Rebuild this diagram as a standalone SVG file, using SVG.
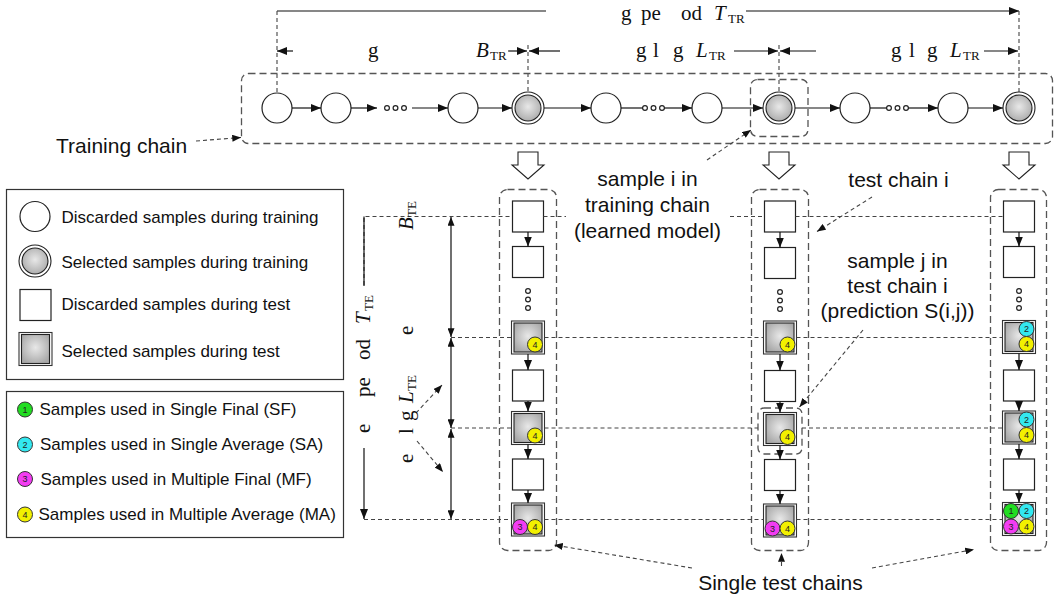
<svg xmlns="http://www.w3.org/2000/svg" width="1055" height="603" viewBox="0 0 1055 603">
<defs>
<style>
.sans{font-family:"Liberation Sans",Arial,sans-serif;fill:#111}
.m{font-family:"Liberation Serif","Times New Roman",serif;font-size:21px;fill:#111}
.it{font-style:italic}
.sub{font-size:13px}
.ln{stroke:#111;stroke-width:1.2;fill:none}
.dl{stroke:#444;stroke-width:1.1;fill:none;stroke-dasharray:4 3}
.box{stroke:#555;stroke-width:1.3;fill:none;stroke-dasharray:7 4}
.nd{fill:#fff;stroke:#222;stroke-width:1.2}
.sel{fill:url(#gs);stroke:#222;stroke-width:1.1}
.bt{font-family:"Liberation Sans",Arial,sans-serif;font-size:9px;fill:#222;text-anchor:middle}
.bd{stroke:#333;stroke-width:1}
</style>
<radialGradient id="gs" cx="0.5" cy="0.45" r="0.6">
<stop offset="0" stop-color="#e8e8e8"/><stop offset="1" stop-color="#a8a8a8"/>
</radialGradient>
<marker id="ah" viewBox="0 0 10 8" refX="10" refY="4" markerWidth="10" markerHeight="8" markerUnits="userSpaceOnUse" orient="auto"><path d="M0,0 L10,4 L0,8 z" fill="#111"/></marker>
<marker id="as" viewBox="0 0 10 8" refX="10" refY="4" markerWidth="9" markerHeight="7" markerUnits="userSpaceOnUse" orient="auto-start-reverse"><path d="M0,0 L10,4 L0,8 z" fill="#111"/></marker>
<g id="selc"><circle r="16" fill="#fff" stroke="#222" stroke-width="1.1"/><circle r="13" class="sel"/></g>
<g id="sq"><rect x="-15.5" y="-15.5" width="31" height="31" class="nd"/></g>
<g id="ssq"><rect x="-16.5" y="-16.5" width="33" height="33" fill="#fff" stroke="#333" stroke-width="1.1"/><rect x="-14" y="-14.5" width="28" height="29" class="sel"/></g>
<g id="darr"><polygon points="-10,0 10,0 10,13 16,13 0,27 -16,13 -10,13" fill="#fff" stroke="#222" stroke-width="1.1"/></g>
<g id="dots3v"><circle cx="0" cy="0" r="2.4" class="nd"/><circle cx="0" cy="8.5" r="2.4" class="nd"/><circle cx="0" cy="17" r="2.4" class="nd"/></g>
</defs>
<rect width="1055" height="603" fill="#fff"/>

<!-- dimension annotations (top) -->
<g id="top-dims">
<line x1="277" y1="11" x2="546" y2="11" class="ln"/>
<line x1="746" y1="11" x2="1019" y2="11" class="ln" marker-end="url(#ah)"/>
<text class="m" y="19.5" font-size="20"><tspan x="621">g</tspan><tspan x="641">pe</tspan><tspan x="681">od</tspan><tspan x="714" class="it">T</tspan><tspan x="728" dy="3" class="sub">TR</tspan></text>
<line x1="293" y1="51" x2="277" y2="51" class="ln" marker-end="url(#ah)"/>
<line x1="508" y1="51" x2="527" y2="51" class="ln" marker-end="url(#ah)"/>
<line x1="560" y1="51" x2="529" y2="51" class="ln" marker-end="url(#ah)"/>
<line x1="734" y1="51" x2="778" y2="51" class="ln" marker-end="url(#ah)"/>
<line x1="816" y1="51" x2="780" y2="51" class="ln" marker-end="url(#ah)"/>
<line x1="984" y1="51" x2="1018" y2="51" class="ln" marker-end="url(#ah)"/>
<text class="m" y="57"><tspan x="368">g</tspan><tspan x="476" class="it">B</tspan><tspan x="490" dy="3" class="sub">TR</tspan></text>
<text class="m" y="57"><tspan x="636">g</tspan><tspan x="653">l</tspan><tspan x="673">g</tspan><tspan x="696" class="it">L</tspan><tspan x="709" dy="3" class="sub">TR</tspan></text>
<text class="m" y="57"><tspan x="891">g</tspan><tspan x="909">l</tspan><tspan x="927">g</tspan><tspan x="950" class="it">L</tspan><tspan x="963" dy="3" class="sub">TR</tspan></text>
<line x1="277" y1="11" x2="277" y2="93" class="dl"/>
<line x1="528" y1="45" x2="528" y2="92" class="dl"/>
<line x1="779" y1="45" x2="779" y2="92" class="dl"/>
<line x1="1019" y1="11" x2="1019" y2="92" class="dl"/>
</g>

<!-- training chain -->
<g id="training-chain">
<rect x="241.5" y="73.5" width="811" height="70" rx="7" class="box"/>
<rect x="750.5" y="79.5" width="57.5" height="57" rx="7" class="box"/>
<circle cx="277" cy="108" r="15" class="nd"/>
<circle cx="336" cy="108" r="15" class="nd"/>
<circle cx="463" cy="108" r="15" class="nd"/>
<use href="#selc" x="528" y="108"/>
<circle cx="606" cy="108" r="15" class="nd"/>
<circle cx="707" cy="108" r="15" class="nd"/>
<use href="#selc" x="779" y="108"/>
<circle cx="855" cy="108" r="15" class="nd"/>
<circle cx="953" cy="108" r="15" class="nd"/>
<use href="#selc" x="1019" y="108"/>
<circle cx="387" cy="108" r="2.4" class="nd"/><circle cx="395.5" cy="108" r="2.4" class="nd"/><circle cx="404" cy="108" r="2.4" class="nd"/>
<circle cx="645" cy="108" r="2.4" class="nd"/><circle cx="653.5" cy="108" r="2.4" class="nd"/><circle cx="662" cy="108" r="2.4" class="nd"/>
<circle cx="889" cy="108" r="2.4" class="nd"/><circle cx="897.5" cy="108" r="2.4" class="nd"/><circle cx="906" cy="108" r="2.4" class="nd"/>
</g>

<!-- down arrows -->
<g id="down-arrows">
<use href="#darr" x="528" y="152"/>
<use href="#darr" x="779" y="152"/>
<use href="#darr" x="1019" y="152"/>
</g>

<!-- test chains -->
<g id="test-chain-1">
<rect x="499.5" y="189.5" width="57" height="361" rx="8" class="box"/>
<use href="#sq" x="528" y="216.5"/>
<use href="#sq" x="528" y="262"/>
<use href="#dots3v" x="528" y="291"/>
<use href="#ssq" x="528" y="337.5"/>
<use href="#sq" x="528" y="385.5"/>
<use href="#ssq" x="528" y="428"/>
<use href="#sq" x="528" y="474.5"/>
<use href="#ssq" x="528" y="519.5"/>
<circle cx="535" cy="344.5" r="7.5" fill="#f2f000" class="bd"/><text x="535" y="347.7" class="bt">4</text>
<circle cx="535" cy="435.5" r="7.5" fill="#f2f000" class="bd"/><text x="535" y="438.7" class="bt">4</text>
<circle cx="520" cy="527" r="7.5" fill="#f23cf2" class="bd"/><text x="520" y="530.2" class="bt">3</text>
<circle cx="535" cy="527" r="7.5" fill="#f2f000" class="bd"/><text x="535" y="530.2" class="bt">4</text>
</g>
<g id="test-chain-2">
<rect x="751.5" y="189.5" width="57" height="361" rx="8" class="box"/>
<rect x="758" y="408" width="44" height="46" rx="6" class="box"/>
<use href="#sq" x="780" y="216.5"/>
<use href="#sq" x="780" y="263"/>
<use href="#dots3v" x="780" y="292"/>
<use href="#ssq" x="780" y="337.5"/>
<use href="#sq" x="780" y="386"/>
<use href="#ssq" x="780" y="429"/>
<use href="#sq" x="780" y="475"/>
<use href="#ssq" x="780" y="520.5"/>
<circle cx="787.5" cy="344.5" r="7.5" fill="#f2f000" class="bd"/><text x="787.5" y="347.7" class="bt">4</text>
<circle cx="787.5" cy="437" r="7.5" fill="#f2f000" class="bd"/><text x="787.5" y="440.2" class="bt">4</text>
<circle cx="772.5" cy="528.5" r="7.5" fill="#f23cf2" class="bd"/><text x="772.5" y="531.7" class="bt">3</text>
<circle cx="787.5" cy="528.5" r="7.5" fill="#f2f000" class="bd"/><text x="787.5" y="531.7" class="bt">4</text>
</g>
<g id="test-chain-3">
<rect x="990.5" y="189.5" width="56" height="361" rx="8" class="box"/>
<use href="#sq" x="1019" y="216.5"/>
<use href="#sq" x="1019" y="262"/>
<use href="#dots3v" x="1019" y="291"/>
<use href="#ssq" x="1019" y="337"/>
<use href="#sq" x="1019" y="385.5"/>
<use href="#ssq" x="1019" y="427.5"/>
<use href="#sq" x="1019" y="474.5"/>
<use href="#ssq" x="1019" y="519"/>
<circle cx="1026.5" cy="329" r="7.5" fill="#33e8f0" class="bd"/><text x="1026.5" y="332.2" class="bt">2</text>
<circle cx="1026.5" cy="344" r="7.5" fill="#f2f000" class="bd"/><text x="1026.5" y="347.2" class="bt">4</text>
<circle cx="1026.5" cy="419.5" r="7.5" fill="#33e8f0" class="bd"/><text x="1026.5" y="422.7" class="bt">2</text>
<circle cx="1026.5" cy="435" r="7.5" fill="#f2f000" class="bd"/><text x="1026.5" y="438.2" class="bt">4</text>
<circle cx="1011" cy="511" r="7.5" fill="#22dd22" class="bd"/><text x="1011" y="514.2" class="bt">1</text>
<circle cx="1026.5" cy="511" r="7.5" fill="#33e8f0" class="bd"/><text x="1026.5" y="514.2" class="bt">2</text>
<circle cx="1011" cy="526.5" r="7.5" fill="#f23cf2" class="bd"/><text x="1011" y="529.7" class="bt">3</text>
<circle cx="1026.5" cy="526.5" r="7.5" fill="#f2f000" class="bd"/><text x="1026.5" y="529.7" class="bt">4</text>
</g>

<!-- connectors -->
<g id="connectors">
<line x1="292" y1="108" x2="321" y2="108" class="ln" marker-end="url(#ah)"/>
<line x1="351" y1="108" x2="377" y2="108" class="ln" marker-end="url(#ah)"/>
<line x1="412" y1="108" x2="448" y2="108" class="ln" marker-end="url(#ah)"/>
<line x1="478" y1="108" x2="512" y2="108" class="ln" marker-end="url(#ah)"/>
<line x1="544" y1="108" x2="591" y2="108" class="ln" marker-end="url(#ah)"/>
<line x1="621" y1="108" x2="642.6" y2="108" class="ln"/>
<line x1="664.4" y1="108" x2="692" y2="108" class="ln" marker-end="url(#ah)"/>
<line x1="722" y1="108" x2="763" y2="108" class="ln" marker-end="url(#ah)"/>
<line x1="795" y1="108" x2="840" y2="108" class="ln" marker-end="url(#ah)"/>
<line x1="870" y1="108" x2="886.6" y2="108" class="ln"/>
<line x1="908.4" y1="108" x2="938" y2="108" class="ln" marker-end="url(#ah)"/>
<line x1="968" y1="108" x2="1003" y2="108" class="ln" marker-end="url(#ah)"/>
<!-- test chain vertical -->
<line x1="528" y1="232" x2="528" y2="246.5" class="ln" marker-end="url(#ah)"/>
<line x1="528" y1="354" x2="528" y2="370" class="ln" marker-end="url(#ah)"/>
<line x1="528" y1="401" x2="528" y2="411.5" class="ln" marker-end="url(#ah)"/>
<line x1="528" y1="444.5" x2="528" y2="459" class="ln" marker-end="url(#ah)"/>
<line x1="528" y1="490" x2="528" y2="503" class="ln" marker-end="url(#ah)"/>
<line x1="780" y1="232" x2="780" y2="247.5" class="ln" marker-end="url(#ah)"/>
<line x1="780" y1="354" x2="780" y2="370.5" class="ln" marker-end="url(#ah)"/>
<line x1="780" y1="401.5" x2="780" y2="412.5" class="ln" marker-end="url(#ah)"/>
<line x1="780" y1="445.5" x2="780" y2="459.5" class="ln" marker-end="url(#ah)"/>
<line x1="780" y1="490.5" x2="780" y2="504" class="ln" marker-end="url(#ah)"/>
<line x1="1019" y1="232" x2="1019" y2="246.5" class="ln" marker-end="url(#ah)"/>
<line x1="1019" y1="353.5" x2="1019" y2="370" class="ln" marker-end="url(#ah)"/>
<line x1="1019" y1="401" x2="1019" y2="411" class="ln" marker-end="url(#ah)"/>
<line x1="1019" y1="444" x2="1019" y2="459" class="ln" marker-end="url(#ah)"/>
<line x1="1019" y1="490" x2="1019" y2="502.5" class="ln" marker-end="url(#ah)"/>
<!-- horizontal dashed guides -->
<polyline points="364,285 364,216.5 512.5,216.5" class="dl"/>
<line x1="543.5" y1="216.5" x2="566" y2="216.5" class="dl"/>
<line x1="730" y1="216.5" x2="764.5" y2="216.5" class="dl"/>
<line x1="795.5" y1="216.5" x2="1003.5" y2="216.5" class="dl"/>
<line x1="451" y1="337.5" x2="511.5" y2="337.5" class="dl"/>
<line x1="544.5" y1="337.5" x2="763.5" y2="337.5" class="dl"/>
<line x1="796.5" y1="337.5" x2="1002.5" y2="337.5" class="dl"/>
<line x1="451" y1="428" x2="511.5" y2="428" class="dl"/>
<line x1="544.5" y1="428" x2="758" y2="428" class="dl"/>
<line x1="802" y1="428" x2="1002.5" y2="428" class="dl"/>
<line x1="364" y1="519.5" x2="511.5" y2="519.5" class="dl"/>
<line x1="544.5" y1="519.5" x2="763.5" y2="519.5" class="dl"/>
<line x1="796.5" y1="519.5" x2="1002.5" y2="519.5" class="dl"/>
<!-- left dimension -->
<line x1="364" y1="216.5" x2="364" y2="286" class="ln"/>
<line x1="364" y1="448" x2="364" y2="519" class="ln" marker-end="url(#ah)"/>
<line x1="451" y1="217" x2="451" y2="337" class="ln" marker-start="url(#as)" marker-end="url(#as)"/>
<line x1="451" y1="338" x2="451" y2="428" class="ln" marker-start="url(#as)" marker-end="url(#as)"/>
<line x1="451" y1="429" x2="451" y2="519" class="ln" marker-start="url(#as)" marker-end="url(#as)"/>
<line x1="416" y1="413" x2="442" y2="385" class="dl" marker-end="url(#as)"/>
<line x1="417" y1="441" x2="443" y2="472" class="dl" marker-end="url(#as)"/>
<!-- annotation arrows -->
<line x1="196" y1="141" x2="241" y2="137.5" class="dl" marker-end="url(#as)"/>
<line x1="707" y1="160" x2="751" y2="130" class="dl" marker-end="url(#as)"/>
<line x1="872" y1="197" x2="817" y2="231.5" class="dl" marker-end="url(#as)"/>
<line x1="863" y1="330" x2="799.5" y2="407" class="dl" marker-end="url(#as)"/>
<line x1="692" y1="568" x2="554" y2="545" class="dl" marker-end="url(#as)"/>
<line x1="781.5" y1="566" x2="781.5" y2="553" class="dl" marker-end="url(#as)"/>
<line x1="872" y1="568" x2="974" y2="549.5" class="dl" marker-end="url(#as)"/>
</g>

<!-- rotated labels -->
<g id="left-labels">
<g transform="translate(370,0) rotate(-90)">
<text class="m" y="0" font-size="21"><tspan x="-433">e</tspan><tspan x="-397">pe</tspan><tspan x="-360">od</tspan><tspan x="-324" class="it">T</tspan><tspan x="-311" dy="3" class="sub">TE</tspan></text>
</g>
<g transform="translate(413,0) rotate(-90)">
<text class="m" y="0" font-size="20"><tspan x="-230" class="it">B</tspan><tspan x="-217" dy="3" class="sub">TE</tspan></text>
<text class="m" y="0" font-size="20"><tspan x="-335">e</tspan></text>
<text class="m" y="0" font-size="20"><tspan x="-463">e</tspan><tspan x="-434">l</tspan><tspan x="-421">g</tspan><tspan x="-403" class="it">L</tspan><tspan x="-391" dy="3" class="sub">TE</tspan></text>
</g>
</g>

<!-- text annotations -->
<g id="annotations">
<text x="56" y="153" class="sans" font-size="21">Training chain</text>
<text class="sans" font-size="21" text-anchor="middle"><tspan x="647.5" y="186">sample i in</tspan><tspan x="647.5" y="212">training chain</tspan><tspan x="647.5" y="238">(learned model)</tspan></text>
<text x="898.5" y="187" class="sans" font-size="21" text-anchor="middle">test chain i</text>
<text class="sans" font-size="21" text-anchor="middle"><tspan x="897.5" y="268">sample j in</tspan><tspan x="897.5" y="293">test chain i</tspan><tspan x="897.5" y="318">(prediction S(i,j))</tspan></text>
<text x="780.5" y="590" class="sans" font-size="21" text-anchor="middle">Single test chains</text>
</g>

<!-- legends -->
<g id="legend-samples">
<rect x="6.5" y="189.5" width="337" height="190" fill="#fff" stroke="#333" stroke-width="1.2"/>
<circle cx="35" cy="216.5" r="15" class="nd"/>
<text x="61.5" y="223" class="sans" font-size="17">Discarded samples during training</text>
<use href="#selc" x="35" y="261"/>
<text x="61.5" y="267.5" class="sans" font-size="17">Selected samples during training</text>
<use href="#sq" x="35.5" y="305"/>
<text x="61.5" y="309.5" class="sans" font-size="17">Discarded samples during test</text>
<use href="#ssq" x="35.5" y="349"/>
<text x="61.5" y="356.5" class="sans" font-size="17">Selected samples during test</text>
</g>
<g id="legend-methods">
<rect x="6.5" y="391.5" width="337" height="146" fill="#fff" stroke="#333" stroke-width="1.2"/>
<circle cx="25" cy="409.5" r="7.5" fill="#22dd22" class="bd"/><text x="25" y="412.7" class="bt">1</text>
<text x="39.5" y="415" class="sans" font-size="17">Samples used in Single Final (SF)</text>
<circle cx="25" cy="444.5" r="7.5" fill="#33e8f0" class="bd"/><text x="25" y="447.7" class="bt">2</text>
<text x="40" y="450" class="sans" font-size="17">Samples used in Single Average (SA)</text>
<circle cx="25" cy="479" r="7.5" fill="#f23cf2" class="bd"/><text x="25" y="482.2" class="bt">3</text>
<text x="40.5" y="485" class="sans" font-size="17">Samples used in Multiple Final (MF)</text>
<circle cx="25" cy="514.5" r="7.5" fill="#f2f000" class="bd"/><text x="25" y="517.7" class="bt">4</text>
<text x="38.5" y="520" class="sans" font-size="17">Samples used in Multiple Average (MA)</text>
</g>
</svg>
